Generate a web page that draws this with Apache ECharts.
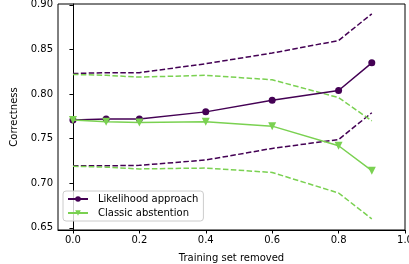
<!DOCTYPE html>
<html>
<head>
<meta charset="utf-8">
<script src="https://cdn.jsdelivr.net/npm/echarts@6/dist/echarts.min.js"></script>
<style>
  html, body { margin: 0; padding: 0; background: #fff; }
  #chart { width: 409px; height: 264px; }
</style>
</head>
<body>
<div id="chart"></div>
<script>
// fraction of the training set removed
const removed = [0, 0.1, 0.2, 0.4, 0.6, 0.8, 0.9];

// mean correctness
const likelihood = [0.771, 0.772, 0.772, 0.780, 0.793, 0.804, 0.835];
const classic = [0.771, 0.769, 0.768, 0.769, 0.764, 0.742, 0.714];

// upper / lower bands (dashed)
const likelihoodUpper = [0.823, 0.824, 0.824, 0.834, 0.846, 0.860, 0.890];
const likelihoodLower = [0.7195, 0.7195, 0.720, 0.726, 0.739, 0.749, 0.779];
const classicUpper = [0.822, 0.821, 0.819, 0.821, 0.816, 0.796, 0.770];
const classicLower = [0.719, 0.718, 0.716, 0.717, 0.712, 0.689, 0.660];

const xTicks = [0, 0.2, 0.4, 0.6, 0.8, 1.0];
const yTicks = [0.65, 0.70, 0.75, 0.80, 0.85, 0.90];

const purple = '#440154';
const green = '#7ad151';
const font = 'DejaVu Sans';

const pairs = ys => removed.map((x, i) => [x, ys[i]]);

const chart = echarts.init(document.getElementById('chart'));

const dashed = (data, color) => ({
  type: 'line',
  data: pairs(data),
  showSymbol: false,
  symbol: 'none',
  silent: true,
  lineStyle: { color: color, width: 1.5, type: [5.5, 2.4] },
  z: 2,
});

chart.setOption({
  animation: false,
  backgroundColor: '#fff',
  textStyle: { fontFamily: font },
  grid: {
    left: 58, right: 4, top: 4, bottom: 34,
    outerBoundsMode: 'none',
    containLabel: false,
    show: true, borderColor: '#000', borderWidth: 1,
  },
  xAxis: {
    type: 'value',
    min: -0.045,
    max: 1.0,
    name: 'Training set removed',
    nameLocation: 'middle',
    nameGap: 23,
    nameTextStyle: { color: '#000', fontSize: 10, fontFamily: font },
    splitLine: { show: false },
    axisLine: { show: true, lineStyle: { color: '#000', width: 1 } },
    axisTick: { show: true, length: 3.5, customValues: xTicks, lineStyle: { color: '#000' } },
    axisLabel: {
      customValues: xTicks,
      color: '#000', fontSize: 10, fontFamily: font, margin: 5,
      formatter: v => v.toFixed(1),
    },
  },
  yAxis: {
    type: 'value',
    min: 0.6475,
    max: 0.901,
    name: 'Correctness',
    nameLocation: 'middle',
    nameGap: 35,
    nameTextStyle: { color: '#000', fontSize: 10, fontFamily: font },
    splitLine: { show: false },
    axisLine: { show: true, lineStyle: { color: '#000', width: 1 } },
    axisTick: { show: true, length: 3.5, customValues: yTicks, lineStyle: { color: '#000' } },
    axisLabel: {
      customValues: yTicks,
      color: '#000', fontSize: 10, fontFamily: font, margin: 5,
      formatter: v => v.toFixed(2),
    },
  },
  legend: {
    data: ['Likelihood approach', 'Classic abstention'],
    orient: 'vertical',
    left: 63,
    top: 191,
    padding: [3, 5, 3, 4],
    itemGap: 4,
    itemWidth: 20,
    itemHeight: 7,
    borderColor: '#ccc',
    borderWidth: 1,
    borderRadius: 3,
    backgroundColor: 'rgba(255,255,255,0.8)',
    textStyle: { color: '#000', fontSize: 10, fontFamily: font, padding: [0, 0, 0, 5] },
  },
  series: [
    dashed(likelihoodUpper, purple),
    dashed(likelihoodLower, purple),
    dashed(classicUpper, green),
    dashed(classicLower, green),
    {
      name: 'Likelihood approach',
      type: 'line',
      data: pairs(likelihood),
      symbol: 'circle',
      symbolSize: 7,
      color: purple,
      itemStyle: { color: purple },
      lineStyle: { color: purple, width: 1.5 },
      z: 3,
    },
    {
      name: 'Classic abstention',
      type: 'line',
      data: pairs(classic),
      symbol: 'triangle',
      symbolRotate: 180,
      symbolSize: 8,
      color: green,
      itemStyle: { color: green },
      lineStyle: { color: green, width: 1.5 },
      z: 4,
    },
  ],
});
</script>
</body>
</html>
